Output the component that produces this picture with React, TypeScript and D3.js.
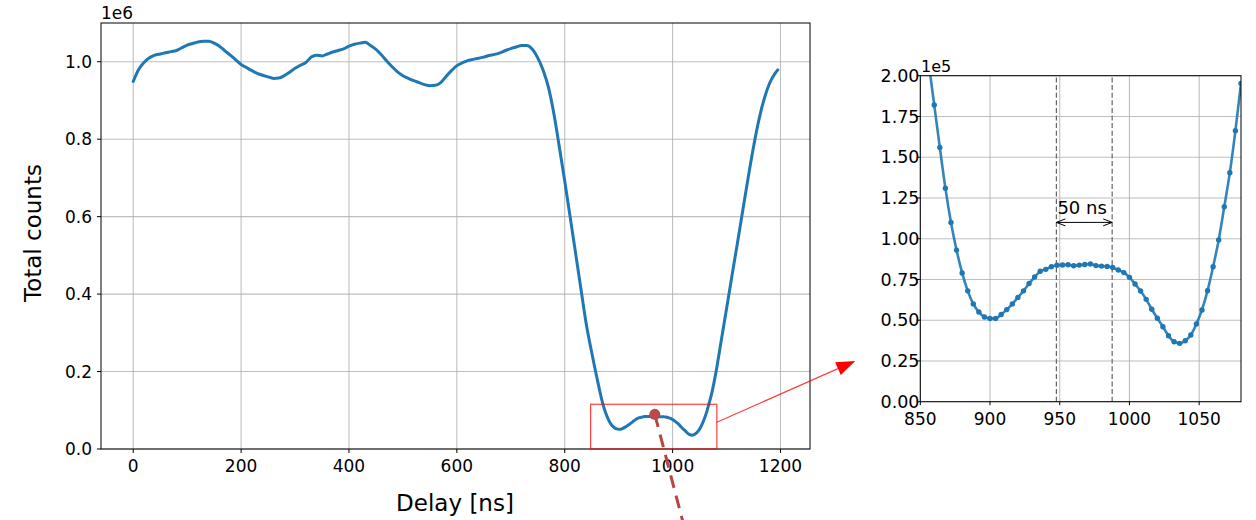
import React from "react";
import * as d3 from "d3";

// ---------- data ----------
// main curve (delay in ns, counts in units of 1e6), coarse part before the dip
const delaysA = [0, 10, 20, 30, 40, 50, 60, 70, 80, 90, 100, 110, 120, 130, 140, 150, 160, 170, 180, 190, 200, 210, 220, 230, 240, 250, 260, 270, 280, 290, 300, 310, 320, 330, 340, 350, 360, 370, 380, 390, 400, 410, 420, 430, 440, 450, 460, 470, 480, 490, 500, 510, 520, 530, 540, 550, 560, 570, 580, 590, 600, 610, 620, 630, 640, 650, 660, 670, 680, 690, 700, 710, 720, 730, 740, 750, 760, 770, 780, 790, 800, 810, 820, 830, 840];
const countsA = [0.949, 0.98, 0.998, 1.01, 1.017, 1.02, 1.023, 1.026, 1.029, 1.036, 1.043, 1.047, 1.051, 1.053, 1.053, 1.048, 1.04, 1.028, 1.017, 1.005, 0.993, 0.985, 0.977, 0.97, 0.965, 0.961, 0.957, 0.958, 0.964, 0.973, 0.983, 0.991, 0.998, 1.012, 1.017, 1.015, 1.02, 1.025, 1.029, 1.033, 1.04, 1.045, 1.048, 1.05, 1.042, 1.032, 1.018, 1.002, 0.987, 0.974, 0.964, 0.957, 0.951, 0.946, 0.941, 0.938, 0.939, 0.946, 0.962, 0.977, 0.99, 0.997, 1.003, 1.006, 1.009, 1.012, 1.016, 1.019, 1.023, 1.029, 1.034, 1.038, 1.042, 1.042, 1.032, 1.01, 0.978, 0.933, 0.865, 0.78, 0.692, 0.6, 0.507, 0.414, 0.322];

// fine samples around the dip (delay in ns, counts in units of 1e5)
const delaysFine = [852, 856, 860, 864, 868, 872, 876, 880, 884, 888, 892, 896, 900, 904, 908, 912, 916, 920, 924, 928, 932, 936, 940, 944, 948, 952, 956, 960, 964, 968, 972, 976, 980, 984, 988, 992, 996, 1000, 1004, 1008, 1012, 1016, 1020, 1024, 1028, 1032, 1036, 1040, 1044, 1048, 1052, 1056, 1060, 1064, 1068, 1072, 1076, 1080];
const countsFine = [2.36, 2.08, 1.82, 1.56, 1.31, 1.1, 0.93, 0.79, 0.68, 0.6, 0.55, 0.52, 0.51, 0.51, 0.535, 0.565, 0.6, 0.64, 0.68, 0.725, 0.765, 0.8, 0.812, 0.828, 0.837, 0.839, 0.84, 0.834, 0.838, 0.842, 0.845, 0.835, 0.832, 0.83, 0.824, 0.808, 0.792, 0.763, 0.722, 0.679, 0.628, 0.567, 0.512, 0.46, 0.405, 0.368, 0.358, 0.374, 0.409, 0.477, 0.563, 0.681, 0.828, 0.992, 1.196, 1.405, 1.663, 1.953];

// coarse part after the dip (units of 1e6)
const delaysB = [1090, 1100, 1110, 1120, 1130, 1140, 1150, 1160, 1170, 1180, 1190, 1195];
const countsB = [0.278, 0.362, 0.447, 0.53, 0.615, 0.7, 0.78, 0.85, 0.905, 0.945, 0.97, 0.979];

const mainXTicks = [0, 200, 400, 600, 800, 1000, 1200];
const mainYTicks = [0, 0.2, 0.4, 0.6, 0.8, 1.0];
const insetXTicks = [850, 900, 950, 1000, 1050];
const insetYTicks = [0, 0.25, 0.5, 0.75, 1.0, 1.25, 1.5, 1.75, 2.0];

const markerLines = [947.6, 987.6];
const spanLabel = "50 ns";
const spanLevel = 1.1; // 1e5
const highlightPoint = [967, 0.0896]; // ns, 1e6
const zoomBox = { x0: 848, x1: 1082, y0: 0, y1: 0.1155 }; // ns, 1e6

// ---------- layout ----------
const FONT = "DejaVu Sans";
const BLUE = "#1f77b4";
const GRID = "#b0b0b0";

const xMain = d3.scaleLinear().domain([-59.75, 1254.75]).range([101, 810]);
const yMain = d3.scaleLinear().domain([0, 1.1]).range([449, 23]);
const xIn = d3.scaleLinear().domain([850, 1080]).range([920.3, 1241]);
const yIn = d3.scaleLinear().domain([0, 2]).range([401.7, 75.7]);

export default function App() {
  const mainData: [number, number][] = [
    ...delaysA.map((d, i) => [d, countsA[i]] as [number, number]),
    ...delaysFine.map((d, i) => [d, countsFine[i] / 10] as [number, number]),
    ...delaysB.map((d, i) => [d, countsB[i]] as [number, number]),
  ];
  const mainLine = d3
    .line<[number, number]>()
    .x((d) => xMain(d[0]))
    .y((d) => yMain(d[1]))
    .curve(d3.curveMonotoneX)(mainData) as string;

  const fineData: [number, number][] = delaysFine.map((d, i) => [d, countsFine[i]]);
  const insetLine = d3
    .line<[number, number]>()
    .x((d) => xIn(d[0]))
    .y((d) => yIn(d[1]))
    .curve(d3.curveMonotoneX)(fineData) as string;

  const fmt1 = d3.format(".1f");
  const fmt2 = d3.format(".2f");

  // red connector arrow
  const cx0 = xMain(zoomBox.x1);
  const cy0 = yMain(0.069);
  const cx1 = xIn(850) - 65;
  const cy1 = yIn(0.25);
  const ang = Math.atan2(cy1 - cy0, cx1 - cx0);
  const hl = 19, hw = 7;
  const bx = cx1 - hl * Math.cos(ang), by = cy1 - hl * Math.sin(ang);
  const head = `M${cx1},${cy1} L${bx + hw * Math.sin(ang)},${by - hw * Math.cos(ang)} L${bx - hw * Math.sin(ang)},${by + hw * Math.cos(ang)} Z`;

  // dashed brown line from highlight point
  const hx = xMain(highlightPoint[0]);
  const hy = yMain(highlightPoint[1]);
  const dirX = 27.6, dirY = 105.7;
  const hx2 = hx + dirX * 1.3, hy2 = hy + dirY * 1.3;

  // span arrow
  const ax0 = xIn(markerLines[0]);
  const ax1 = xIn(markerLines[1]);
  const ay = yIn(spanLevel);

  return (
    <svg width={1256} height={520} style={{ position: "absolute", left: 0, top: 0, background: "#fff" }} fontFamily={FONT}>
      <defs>
        <clipPath id="insetClip">
          <rect x={xIn(850)} y={yIn(2)} width={xIn(1080) - xIn(850)} height={yIn(0) - yIn(2)} />
        </clipPath>
      </defs>
      <rect x={0} y={0} width={1256} height={520} fill="#fff" />

      {/* ---------- main axes ---------- */}
      <g>
        {mainXTicks.map((t) => (
          <line key={"gx" + t} x1={xMain(t)} x2={xMain(t)} y1={yMain(0)} y2={yMain(1.1)} stroke={GRID} strokeWidth={1.1} opacity={0.8} />
        ))}
        {mainYTicks.map((t) => (
          <line key={"gy" + t} x1={xMain(-59.75)} x2={xMain(1254.75)} y1={yMain(t)} y2={yMain(t)} stroke={GRID} strokeWidth={1.1} opacity={0.8} />
        ))}
        <path d={mainLine} fill="none" stroke={BLUE} strokeWidth={3} strokeLinejoin="round" strokeLinecap="round" />
        <rect x={xMain(-59.75)} y={yMain(1.1)} width={xMain(1254.75) - xMain(-59.75)} height={yMain(0) - yMain(1.1)} fill="none" stroke="#000" strokeWidth={1} />
        {mainXTicks.map((t) => (
          <g key={"tx" + t}>
            <line x1={xMain(t)} x2={xMain(t)} y1={yMain(0)} y2={yMain(0) + 4} stroke="#000" strokeWidth={1} />
            <text x={xMain(t)} y={471.5} fontSize={17} textAnchor="middle" fill="#000">{t}</text>
          </g>
        ))}
        {mainYTicks.map((t) => (
          <g key={"ty" + t}>
            <line x1={xMain(-59.75) - 4} x2={xMain(-59.75)} y1={yMain(t)} y2={yMain(t)} stroke="#000" strokeWidth={1} />
            <text x={92} y={yMain(t) + 6} fontSize={17} textAnchor="end" fill="#000">{fmt1(t)}</text>
          </g>
        ))}
        <text x={101} y={19} fontSize={17} fill="#000">1e6</text>
        <text x={455} y={511} fontSize={23} textAnchor="middle" fill="#000">Delay [ns]</text>
        <text transform={`translate(41,233) rotate(-90)`} fontSize={23} textAnchor="middle" fill="#000">Total counts</text>

        {/* zoom box and connector */}
        <rect x={xMain(zoomBox.x0)} y={yMain(zoomBox.y1)} width={xMain(zoomBox.x1) - xMain(zoomBox.x0)} height={yMain(zoomBox.y0) - yMain(zoomBox.y1)} fill="none" stroke="#ff0000" strokeOpacity={0.75} strokeWidth={1.2} />
        <line x1={cx0} y1={cy0} x2={bx} y2={by} stroke="#ff0000" strokeOpacity={0.75} strokeWidth={1.2} />
        <path d={head} fill="#ff0000" />

        {/* highlight point and dashed line */}
        <line x1={hx} y1={hy} x2={hx2} y2={hy2} stroke="#b5473f" strokeWidth={3} strokeDasharray="13,8" />
        <circle cx={hx} cy={hy} r={5.5} fill="#b94a48" />
      </g>

      {/* ---------- inset axes ---------- */}
      <g>
        {insetXTicks.map((t) => (
          <line key={"igx" + t} x1={xIn(t)} x2={xIn(t)} y1={yIn(0)} y2={yIn(2)} stroke={GRID} strokeWidth={1.1} opacity={0.8} />
        ))}
        {insetYTicks.map((t) => (
          <line key={"igy" + t} x1={xIn(850)} x2={xIn(1080)} y1={yIn(t)} y2={yIn(t)} stroke={GRID} strokeWidth={1.1} opacity={0.8} />
        ))}
        {markerLines.map((m) => (
          <line key={"ml" + m} x1={xIn(m)} x2={xIn(m)} y1={yIn(0)} y2={yIn(2)} stroke="#666" strokeWidth={1.2} strokeDasharray="5,2.6" />
        ))}
        <g clipPath="url(#insetClip)">
          <path d={insetLine} fill="none" stroke={BLUE} strokeWidth={2.6} opacity={0.9} />
          {fineData.map((d) => (
            <circle key={"p" + d[0]} cx={xIn(d[0])} cy={yIn(d[1])} r={2.7} fill={BLUE} />
          ))}
        </g>
        {/* span arrow */}
        <line x1={ax0} x2={ax1} y1={ay} y2={ay} stroke="#000" strokeWidth={1} />
        <path d={`M${ax0 + 9},${ay - 3.5} L${ax0},${ay} L${ax0 + 9},${ay + 3.5}`} fill="none" stroke="#000" strokeWidth={1} />
        <path d={`M${ax1 - 9},${ay - 3.5} L${ax1},${ay} L${ax1 - 9},${ay + 3.5}`} fill="none" stroke="#000" strokeWidth={1} />
        <text x={ax0 + 1} y={214} fontSize={18} fill="#000">{spanLabel}</text>

        <rect x={xIn(850)} y={yIn(2)} width={xIn(1080) - xIn(850)} height={yIn(0) - yIn(2)} fill="none" stroke="#000" strokeWidth={1} />
        {insetXTicks.map((t) => (
          <g key={"itx" + t}>
            <line x1={xIn(t)} x2={xIn(t)} y1={yIn(0)} y2={yIn(0) + 3.5} stroke="#000" strokeWidth={1} />
            <text x={xIn(t)} y={425} fontSize={17} textAnchor="middle" fill="#000">{t}</text>
          </g>
        ))}
        {insetYTicks.map((t) => (
          <g key={"ity" + t}>
            <line x1={xIn(850) - 3.5} x2={xIn(850)} y1={yIn(t)} y2={yIn(t)} stroke="#000" strokeWidth={1} />
            <text x={919.5} y={yIn(t) + 6.2} fontSize={17.5} textAnchor="end" fill="#000">{fmt2(t)}</text>
          </g>
        ))}
        <text x={921} y={72} fontSize={16} fill="#000">1e5</text>
      </g>
    </svg>
  );
}
